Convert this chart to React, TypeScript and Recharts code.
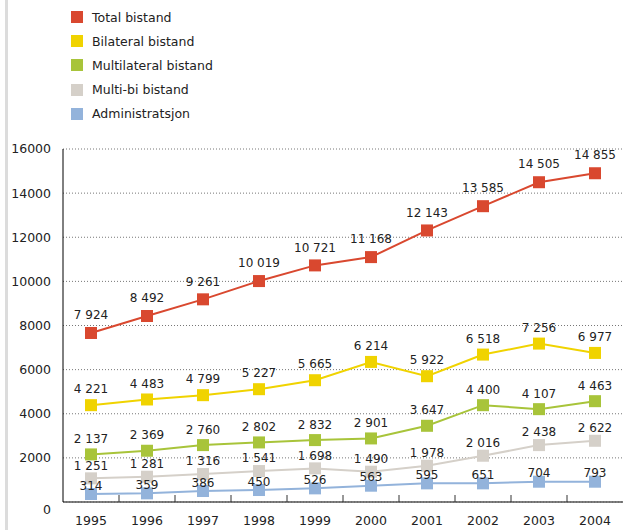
import { LineChart, Line, XAxis, YAxis, CartesianGrid, LabelList } from 'recharts';

const years = ['1995', '1996', '1997', '1998', '1999', '2000', '2001', '2002', '2003', '2004'];

// values as plotted
const totalValues = [7661, 8430, 9186, 10014, 10724, 11100, 12308, 13408, 14494, 14901];
const bilateralValues = [4389, 4647, 4842, 5113, 5520, 6349, 5702, 6682, 7180, 6757];
const multilateralValues = [2157, 2323, 2579, 2700, 2806, 2881, 3454, 4389, 4208, 4570];
const multiBiValues = [1072, 1146, 1267, 1403, 1524, 1373, 1644, 2097, 2579, 2775];
const adminValues = [362, 392, 498, 543, 618, 739, 845, 845, 920, 920];

// printed labels
const totalLabels = ['7 924', '8 492', '9 261', '10 019', '10 721', '11 168', '12 143', '13 585', '14 505', '14 855'];
const bilateralLabels = ['4 221', '4 483', '4 799', '5 227', '5 665', '6 214', '5 922', '6 518', '7 256', '6 977'];
const multilateralLabels = ['2 137', '2 369', '2 760', '2 802', '2 832', '2 901', '3 647', '4 400', '4 107', '4 463'];
const multiBiLabels = ['1 251', '1 281', '1 316', '1 541', '1 698', '1 490', '1 978', '2 016', '2 438', '2 622'];
const adminLabels = ['314', '359', '386', '450', '526', '563', '595', '651', '704', '793'];

const yTicks = [0, 2000, 4000, 6000, 8000, 10000, 12000, 14000, 16000];

const series = [
  { key: 'total', name: 'Total bistand', color: '#d9482f', values: totalValues, labels: totalLabels, offset: -18 },
  { key: 'bilateral', name: 'Bilateral bistand', color: '#f0d300', values: bilateralValues, labels: bilateralLabels, offset: -16 },
  { key: 'multilateral', name: 'Multilateral bistand', color: '#a8c43a', values: multilateralValues, labels: multilateralLabels, offset: -15.5 },
  { key: 'multibi', name: 'Multi-bi bistand', color: '#d5d0c9', values: multiBiValues, labels: multiBiLabels, offset: -13 },
  { key: 'admin', name: 'Administratsjon', color: '#93b3db', values: adminValues, labels: adminLabels, offset: -8.5 },
];

const data = years.map((year, i) => {
  const row: Record<string, string | number> = { year };
  series.forEach(s => { row[s.key] = s.values[i]; });
  return row;
});

const FONT = '"DejaVu Sans", Verdana, sans-serif';
const TEXT = '#222';

const SquareDot = ({ cx, cy, fill }: { cx?: number; cy?: number; fill?: string }) => {
  if (cx == null || cy == null) return null;
  return <rect x={cx - 6} y={cy - 6} width={12} height={12} fill={fill} />;
};

const XTick = ({ x, y, payload, index }: any) => (
  <g>
    <text x={x} y={y + 23} textAnchor="middle" fontSize={12.5} fill={TEXT} fontFamily={FONT}>
      {payload.value}
    </text>
    {index > 0 && <line x1={x - 28} x2={x - 28} y1={y - 7} y2={y} stroke="#333" strokeWidth={1} />}
  </g>
);

const YTick = ({ x, y, payload }: any) => (
  <text x={x} y={y + (payload.value === 0 ? 8 : 0)} dy="0.35em" textAnchor="end" fontSize={12.5} fill={TEXT} fontFamily={FONT}>
    {payload.value}
  </text>
);

export default function App() {
  return (
    <div style={{ position: 'absolute', left: 0, top: 0, width: 623, height: 530, background: '#fff', fontFamily: FONT }}>
      <div style={{ position: 'absolute', left: 5, top: 0, width: 3, height: 530, background: '#dcdcdc' }} />
      <div style={{ position: 'absolute', left: 71, top: 5 }}>
        {series.map(s => (
          <div key={s.key} style={{ display: 'flex', alignItems: 'center', height: 24.2 }}>
            <span style={{ width: 12, height: 12, background: s.color, display: 'inline-block' }} />
            <span style={{ marginLeft: 9, fontSize: 12.5, color: TEXT }}>{s.name}</span>
          </div>
        ))}
      </div>
      <LineChart width={623} height={530} data={data} margin={{ top: 149, right: 0, bottom: 0, left: 0 }}>
        <CartesianGrid vertical={false} stroke="#777" strokeDasharray="1 2" />
        <XAxis
          dataKey="year"
          scale="band"
          height={28}
          tickLine={false}
          tickSize={0}
          tickMargin={0}
          axisLine={{ stroke: '#555', strokeWidth: 1.5 }}
          tick={<XTick />}
          interval={0}
        />
        <YAxis
          width={63}
          domain={[0, 16000]}
          ticks={yTicks}
          tickLine={false}
          tickSize={0}
          tickMargin={12}
          axisLine={{ stroke: '#000' }}
          tick={<YTick />}
          interval={0}
        />
        {series.slice().reverse().map(s => (
          <Line
            key={s.key}
            dataKey={s.key}
            name={s.name}
            stroke={s.color}
            strokeWidth={2}
            dot={<SquareDot fill={s.color} />}
            activeDot={false}
            isAnimationActive={false}
          >
            <LabelList
              dataKey={s.key}
              content={(p: any) => (
                <text
                  x={p.x}
                  y={p.y + s.offset}
                  dy="0.35em"
                  textAnchor="middle"
                  fontSize={12}
                  fill={TEXT}
                  fontFamily={FONT}
                >
                  {s.labels[p.index]}
                </text>
              )}
            />
          </Line>
        ))}
      </LineChart>
    </div>
  );
}
